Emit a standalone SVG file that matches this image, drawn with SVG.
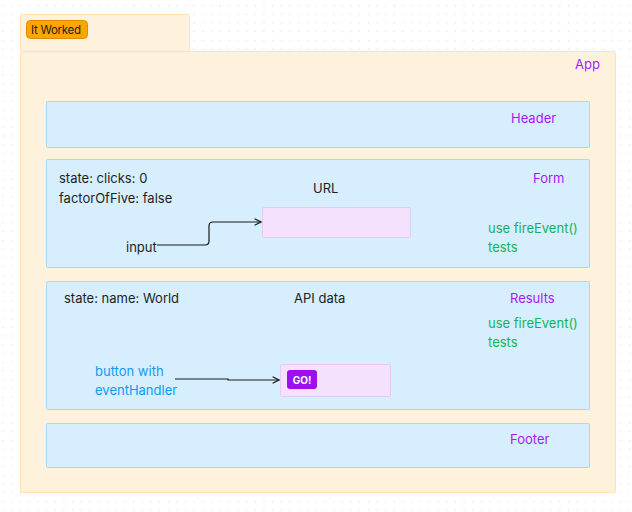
<svg xmlns="http://www.w3.org/2000/svg" width="632" height="512" viewBox="0 0 632 512">
<defs>
<pattern id="dots" x="2.5" y="5" width="8.7" height="8.7" patternUnits="userSpaceOnUse">
<rect x="0" y="0" width="1" height="1" fill="#d4d4d4"/>
</pattern>
<marker id="arr" viewBox="0 0 10 10" refX="9" refY="5" markerWidth="8" markerHeight="8" markerUnits="userSpaceOnUse" orient="auto">
<path d="M1,1 L9,5 L1,9" fill="none" stroke="#1a1a1a" stroke-width="1.4"/>
</marker>
</defs>
<style>
text{font-family:Inter,"Liberation Sans",sans-serif;font-size:13px;fill:#1e1e1e}
.frame{fill:#fff2dc;stroke:#ffe2b0;stroke-width:1}
.box{fill:#d6eefd;stroke:#a9d8f6;stroke-width:1}
.pink{fill:#f3e1fd;stroke:#e6c9f8;stroke-width:1}
.purple{fill:#a619ff}
.green{fill:#14b35a}
.blue{fill:#0f9bf5}
.conn{fill:none;stroke:#1a1a1a;stroke-width:1.2}
</style>
<rect width="632" height="512" fill="#ffffff"/>
<rect width="632" height="512" fill="url(#dots)"/>
<g id="label-frame">
<rect class="frame" x="20.5" y="14.5" width="169" height="37" rx="2"/>
<rect x="26.5" y="20.5" width="61" height="18" rx="4" fill="#ffa500" stroke="#e38b00"/>
<text x="31" y="34" style="font-size:11.5px;font-weight:400" textLength="50">It Worked</text>
</g>
<g id="app">
<rect class="frame" x="20.5" y="51.5" width="595" height="441" rx="2"/>
<text class="purple" x="575" y="69">App</text>
</g>
<g id="header">
<rect class="box" x="46.5" y="101.5" width="543" height="46" rx="1"/>
<text class="purple" x="511" y="123">Header</text>
</g>
<g id="form">
<rect class="box" x="46.5" y="159.5" width="543" height="108" rx="1"/>
<text class="purple" x="533" y="183">Form</text>
<text x="59" y="183">state: clicks: 0</text>
<text x="59" y="203">factorOfFive: false</text>
<text x="313" y="193">URL</text>
<text x="126" y="252">input</text>
<text class="green" x="488" y="233">use fireEvent()</text>
<text class="green" x="488" y="252">tests</text>
</g>
<g id="url-input">
<rect class="pink" x="262.5" y="207.5" width="148" height="30" rx="1"/>
</g>
<g id="results">
<rect class="box" x="46.5" y="281.5" width="543" height="128" rx="1"/>
<text class="purple" x="510" y="303">Results</text>
<text x="64" y="303">state: name: World</text>
<text x="294" y="303">API data</text>
<text class="green" x="488" y="328">use fireEvent()</text>
<text class="green" x="488" y="347">tests</text>
<text class="blue" x="95" y="376">button with</text>
<text class="blue" x="95" y="395">eventHandler</text>
</g>
<g id="api-data">
<rect class="pink" x="280.5" y="364.5" width="110" height="32" rx="1"/>
<rect x="287" y="370" width="30" height="19" rx="3" fill="#9d0ff0"/>
<text x="302" y="384" text-anchor="middle" style="font-size:10px;font-weight:700;fill:#ffffff">GO!</text>
</g>
<g id="footer">
<rect class="box" x="46.5" y="423.5" width="543" height="44" rx="1"/>
<text class="purple" x="510" y="444">Footer</text>
</g>
<g id="connectors">
<path class="conn" d="M157,245 L205,245 Q209,245 209,241 L209,226 Q209,222 213,222 L261,222" marker-end="url(#arr)"/>
<path class="conn" d="M175,379 L228,379 L228,380 L279,380" marker-end="url(#arr)"/>
</g>
</svg>
